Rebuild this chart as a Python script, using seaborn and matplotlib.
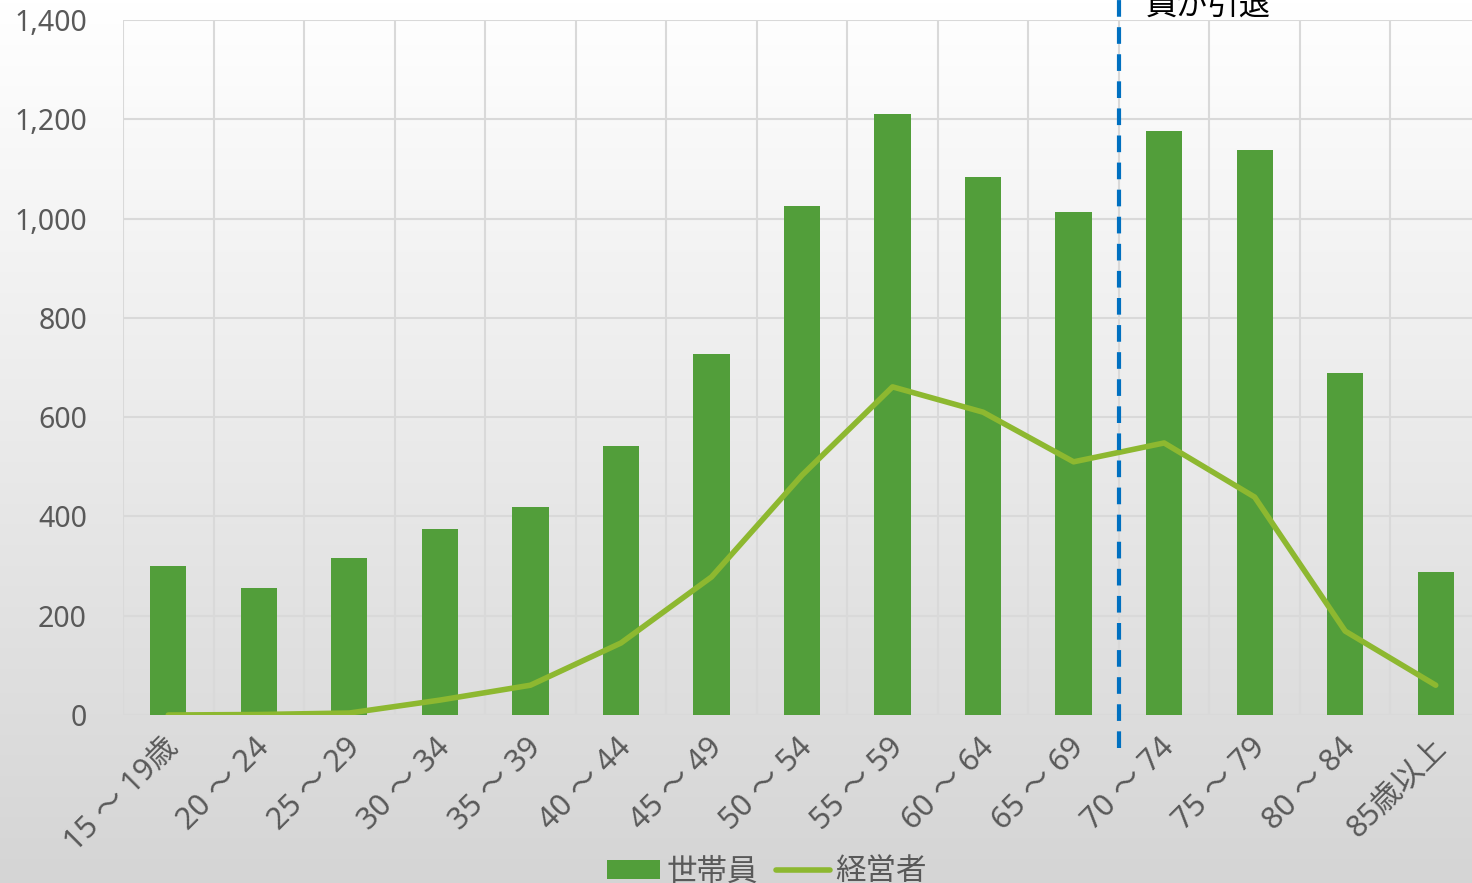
import numpy as np
import matplotlib
matplotlib.use("Agg")
import matplotlib.pyplot as plt
import matplotlib.transforms as mtransforms
import seaborn as sns
from matplotlib.patches import Patch
from matplotlib.lines import Line2D
from matplotlib.ticker import FuncFormatter, MultipleLocator

categories = ["15 ～ 19歳", "20 ～ 24", "25 ～ 29", "30 ～ 34", "35 ～ 39", "40 ～ 44",
              "45 ～ 49", "50 ～ 54", "55 ～ 59", "60 ～ 64", "65 ～ 69", "70 ～ 74",
              "75 ～ 79", "80 ～ 84", "85歳以上"]
members = [300, 256, 316, 375, 419, 542, 727, 1025, 1211, 1084, 1013, 1176, 1138, 689, 288]
managers = [0, 1, 4, 30, 60, 145, 278, 483, 661, 610, 510, 548, 439, 169, 60]
series_names = ["世帯員", "経営者"]
annotation = "員が引退"

sns.set_theme(style="white")
plt.rcParams['font.family'] = ['Noto Sans', 'Noto Sans CJK JP', 'DejaVu Sans']

bar_color = "#529E3A"
line_color = "#8DB830"
text_color = "#595959"
grid_color = "#D9D9D9"

fig = plt.figure(figsize=(14.72, 8.83), dpi=100)

# gradient background
bg = fig.add_axes([0, 0, 1, 1], zorder=-10)
grad = np.linspace(1.0, 0.0, 256).reshape(-1, 1)
top = np.array([1.0, 1.0, 1.0])
bot = np.array([0.835, 0.835, 0.835])
img = bot + (top - bot) * grad[..., None]
img = np.repeat(img, 2, axis=1)
bg.imshow(img, aspect="auto", extent=[0, 1, 0, 1])
bg.set_axis_off()

ax = fig.add_axes([123 / 1472, 168 / 883, (1481 - 123) / 1472, 695 / 883])
ax.set_facecolor("none")

sns.barplot(x=categories, y=members, color=bar_color, saturation=1, width=0.4, ax=ax,
            zorder=3, linewidth=0)
sns.lineplot(x=np.arange(len(categories)), y=managers, color=line_color, linewidth=4, ax=ax,
             zorder=4, solid_capstyle="round")

ax.set_xlim(-0.5, len(categories) - 0.5)
ax.set_ylim(0, 1400)
ax.yaxis.set_major_locator(MultipleLocator(200))
ax.yaxis.set_major_formatter(FuncFormatter(lambda v, p: f"{int(v):,}"))

# gridlines
for v in range(0, 1401, 200):
    ax.axhline(v, color=grid_color, linewidth=1.5, zorder=1)
for i in range(len(categories) + 1):
    ax.axvline(i - 0.5, color=grid_color, linewidth=1.5, zorder=1)
for s in ax.spines.values():
    s.set_visible(False)

ax.set_xlabel("")
ax.set_ylabel("")
ax.tick_params(axis="y", length=0, pad=26, labelsize=20.5, labelcolor=text_color)
ax.tick_params(axis="x", length=0, pad=20, labelsize=22, labelcolor=text_color)
offset = mtransforms.ScaledTranslation(6 / 100, 0, fig.dpi_scale_trans)
for lab in ax.get_xticklabels():
    lab.set_rotation(45)
    lab.set_ha("right")
    lab.set_va("center")
    lab.set_rotation_mode("anchor")
    lab.set_transform(lab.get_transform() + offset)

# dashed vertical separator
ax.plot([10.5, 10.5], [-67, 1460], color="#0070C0", linewidth=3, linestyle=(0, (4, 2.5)),
        clip_on=False, zorder=5)
ax.text(10.8, 1396, annotation, fontsize=22.5, color="black", ha="left", va="bottom",
        clip_on=False)

handles = [Patch(facecolor=bar_color, edgecolor="none"),
           Line2D([0], [0], color=line_color, linewidth=4)]
fig.legend(handles, series_names, loc="center", bbox_to_anchor=(0.521, 0.012), ncol=2,
           frameon=False, fontsize=22, labelcolor=text_color, handlelength=1.75,
           handletextpad=0.2, columnspacing=0.6, handleheight=0.6)

fig.savefig("out.png", dpi=100)
